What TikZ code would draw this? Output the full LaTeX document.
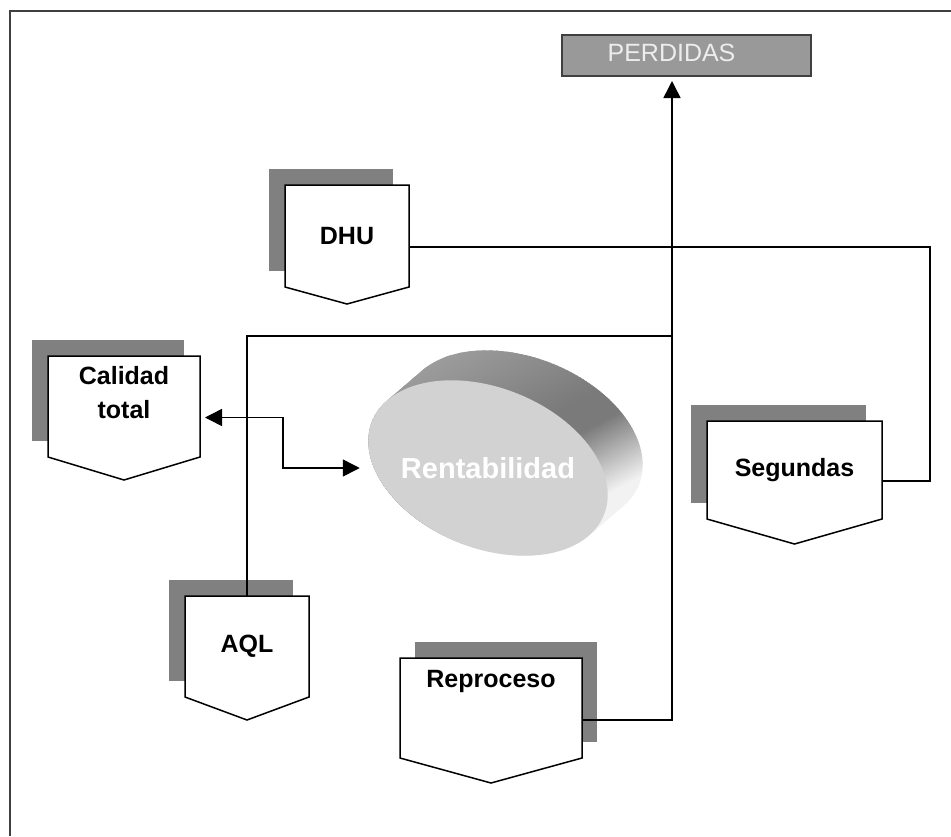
\documentclass[tikz,border=0pt]{standalone}
\usepackage{fontspec}
\setmainfont{Liberation Sans}
\usetikzlibrary{arrows.meta,backgrounds,shapes.geometric}

\definecolor{shadowgray}{HTML}{808080}
\definecolor{boxgray}{HTML}{999999}
\definecolor{framegray}{HTML}{404040}

\begin{document}
\begin{tikzpicture}[x=1pt,y=-1pt]
    \tikzstyle{line} = [line width=1.5pt]
    \tikzstyle{arrow} = [line, -{Triangle[length=17pt,width=17pt]}]
    \tikzstyle{darrow} = [line, {Triangle[length=17pt,width=17pt]}-{Triangle[length=17pt,width=17pt]}]
    \tikzstyle{cardtext} = [font=\fontsize{25}{34}\selectfont\bfseries, align=center]
    \tikzstyle{card} = [rectangle, inner sep=0pt, outer sep=0pt, cardtext]

    \useasboundingbox (0,0) rectangle (951,836);
    \draw[framegray, line width=2pt] (951,11) -- (10,11) -- (10,836);

    \node(perdidas) [rectangle, draw=framegray, line width=2pt, fill=boxgray,
        text=white!93!black, minimum width=249pt, minimum height=41pt,
        text depth=6pt, font=\fontsize{25}{30}\selectfont]
        at (561,34) [anchor=north west]
        {PERDIDAS\rule{30pt}{0pt}};

    \node(dhu) [card, minimum width=124pt, minimum height=102pt]
        at (285,185) [anchor=north west]
        {DHU};
    \node(cal) [card, minimum width=152pt, minimum height=101pt,
        label={[name=caltext, cardtext, anchor=north, yshift=-7pt]north:{Calidad\\total}}]
        at (48,356) [anchor=north west]
        {};
    \node(seg) [card, minimum width=175pt, minimum height=98pt]
        at (707,421) [anchor=north west]
        {Segundas};
    \node(aql) [card, minimum width=124pt, minimum height=101pt]
        at (185,596) [anchor=north west]
        {AQL};
    \node(rep) [card, minimum width=182pt, minimum height=100pt,
        label={[name=reptext, cardtext, anchor=north, yshift=-9pt]north:{Reproceso}}]
        at (400,658) [anchor=north west]
        {};

    \node(rent) [ellipse, inner sep=0pt, minimum width=240pt, minimum height=176pt,
        text=white, font=\fontsize{29}{34}\selectfont\bfseries]
        at (488,468)
        {Rentabilidad};

    \coordinate (bus) at (672,336);
    \coordinate (rightbus) at (930,247);

    \begin{scope}[on background layer]
        % cards with their shadows
        \foreach \n/\dx/\tip in {dhu/-16/17, cal/-16/23, seg/-16/25, aql/-16/23, rep/15/25} {
            \fill[shadowgray] ([shift={(\dx,-16)}]\n.north west)
                rectangle ([shift={(\dx,-16)}]\n.south east);
            \draw[line, fill=white] (\n.north west) -- (\n.north east)
                -- (\n.south east) -- ([yshift=-\tip pt]\n.south)
                -- (\n.south west) -- cycle;
        }
        % the disc: side band in stripes, then the face
        \begin{scope}
            \clip[shift={(rent.center)}, rotate=-22, x=1pt, y=1pt]
                (-18.35:125 and 80) -- ++(21.2,40.9)
                arc [start angle=-18.35, end angle=161.65, x radius=125, y radius=80]
                -- ++(-21.2,-40.9)
                arc [start angle=161.65, end angle=341.65, x radius=125, y radius=80]
                -- cycle;
            \begin{scope}[shift={(rent.center)}, xshift=17pt, yshift=18pt, rotate=118,
                    x=1pt, y=1pt]
                \foreach \t in {-156,-153,...,156} {
                    \pgfmathsetmacro\d{\t>10 ? 52-0.13*(\t-10) : (\t<-20 ? 52+0.7*(\t+20) : 52)}
                    \pgfmathsetmacro\d{max(5,\d)}
                    \fill[black!\d] (\t-2,-220) rectangle (\t+2,220);
                }
            \end{scope}
        \end{scope}
        \fill[gray!35, shift={(rent.center)}, rotate=-22]
            (0,0) ellipse [x radius=125, y radius=80];
    \end{scope}

    \draw[line] ([yshift=-11pt]dhu.east) -- (rightbus) |- ([yshift=-11pt]seg.east);
    \draw[line] (aql.north) |- (bus);
    \draw[arrow] ([yshift=-12pt]rep.east) -| ([yshift=-4pt]perdidas.south -| bus);
    \draw[darrow] ([xshift=5pt,yshift=-11pt]cal.east) -- ++(78,0)
        |- ([xshift=-5pt]rent.west);
\end{tikzpicture}
\end{document}
